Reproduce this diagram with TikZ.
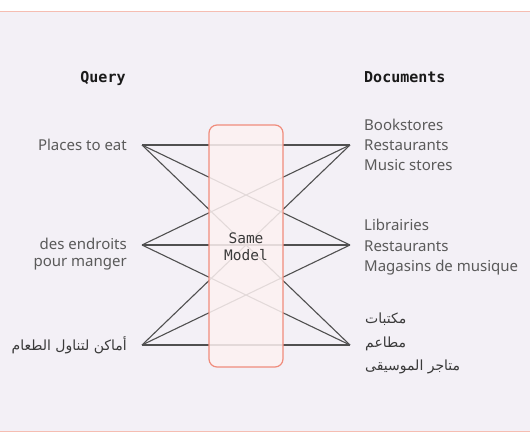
\documentclass[tikz,border=0pt]{standalone}
\usepackage{fontspec}
\setmainfont{Noto Sans}
\newfontfamily\monofont{DejaVu Sans Mono}
\newfontfamily\arabicfont[Script=Arabic]{DejaVu Sans}
\TeXXeTstate=1
\definecolor{bgcol}{HTML}{F3F0F6}
\definecolor{edgecol}{HTML}{F5BDB2}
\definecolor{linecol}{HTML}{505050}
\definecolor{boxfill}{HTML}{FDF2F2}
\definecolor{boxdraw}{HTML}{F08C7C}
\definecolor{labelcol}{HTML}{5A5A5A}
\definecolor{arcol}{HTML}{3A3A3A}
\definecolor{headcol}{HTML}{1A1A1A}
\tikzset{
  header/.style={inner sep=0pt, font=\monofont\bfseries\fontsize{15}{18}\selectfont, text=headcol},
  lbl/.style={inner sep=0pt, font=\fontsize{15}{18}\selectfont, text=labelcol},
  arlbl/.style={inner sep=0pt, font=\arabicfont\fontsize{14}{18}\selectfont, text=arcol},
  link/.style={draw=linecol, line width=1.1pt},
  modelbox/.style={draw=boxdraw, line width=1.2pt, fill=boxfill, fill opacity=0.85, rounded corners=8pt},
  modeltext/.style={inner sep=0pt, font=\monofont\fontsize{14.5}{17}\selectfont, text=arcol}
}
\begin{document}
\begin{tikzpicture}[x=1pt,y=-1pt]
\useasboundingbox (0,0) rectangle (530,442);
\fill[white] (0,0) rectangle (530,442);
\fill[bgcol] (0,11) rectangle (530,431);
\draw[edgecol, line width=1pt] (0,11) -- (530,11);
\draw[edgecol, line width=1pt] (0,431) -- (530,431);

% headers
\node[header, anchor=base] (hq) at (103,82.7) {Query};
\node[header, anchor=base west] (hd) at (364,82.7) {Documents};

% vertices
\coordinate (L1) at (142,145);
\coordinate (L2) at (142,245);
\coordinate (L3) at (142,345);
\coordinate (R1) at (350,145);
\coordinate (R2) at (350,245);
\coordinate (R3) at (350,345);

\foreach \a in {L1,L2,L3}{
  \foreach \b in {R1,R2,R3}{
    \draw[link] (\a) -- (\b);
  }
}

% model box
\draw[modelbox] (209,125) rectangle (283,367);
\node[modeltext, anchor=base] (m1) at (246,243.3) {Same};
\node[modeltext, anchor=base] (m2) at (246,260.7) {Model};

% left labels
\node[lbl, anchor=base east] (q1) at (127,150.5) {Places to eat};
\node[lbl, anchor=base east] (q2a) at (127,249.3) {des endroits};
\node[lbl, anchor=base east] (q2b) at (127,266.7) {pour manger};
\node[arlbl, anchor=base east] (q3) at (127,350.7) {\beginR أماكن لتناول الطعام\endR};

% right labels
\node[lbl, anchor=base west] (d1a) at (364,130) {Bookstores};
\node[lbl, anchor=base west] (d1b) at (364,150.5) {Restaurants};
\node[lbl, anchor=base west] (d1c) at (364,170.7) {Music stores};
\node[lbl, anchor=base west] (d2a) at (364,230.7) {Librairies};
\node[lbl, anchor=base west] (d2b) at (364,251) {Restaurants};
\node[lbl, anchor=base west] (d2c) at (364,271.7) {Magasins de musique};
\node[arlbl, anchor=base west] (d3a) at (365,323) {\beginR مكتبات\endR};
\node[arlbl, anchor=base west] (d3b) at (365,347.7) {\beginR مطاعم\endR};
\node[arlbl, anchor=base west] (d3c) at (365,370.7) {\beginR متاجر الموسيقى\endR};
\end{tikzpicture}
\end{document}
